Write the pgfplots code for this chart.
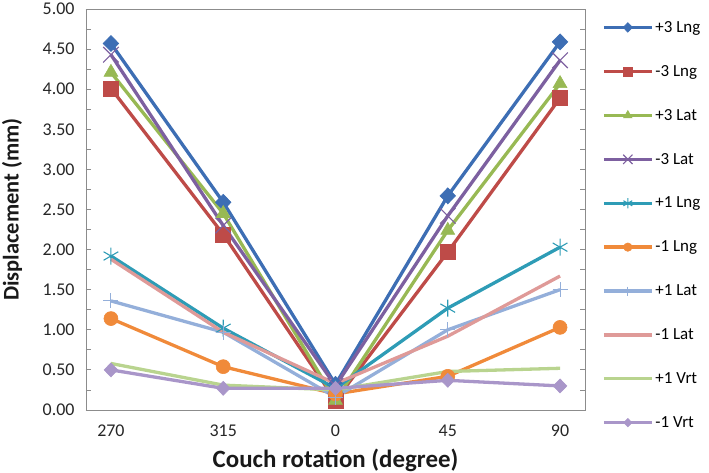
\documentclass[border=0pt]{standalone}
\usepackage{fontspec}
\setmainfont{Carlito}
\usepackage{pgfplots}
\pgfplotsset{compat=1.18}
\definecolor{cA}{HTML}{3D6EB4}
\definecolor{cB}{HTML}{BE4B48}
\definecolor{cC}{HTML}{98B954}
\definecolor{cD}{HTML}{7D60A0}
\definecolor{cE}{HTML}{2E9CB6}
\definecolor{cF}{HTML}{F08A3A}
\definecolor{cG}{HTML}{94AFDA}
\definecolor{cH}{HTML}{DF9A98}
\definecolor{cI}{HTML}{B9D48F}
\definecolor{cJ}{HTML}{A996C9}
\definecolor{axgray}{HTML}{8C8C8C}

\begin{document}
\begin{tikzpicture}[ln/.style={line width=3.3bp}]
\begin{axis}[
    name=ax,
    scale only axis,
    width=499bp, height=401bp,
    xmin=-100, xmax=100, ymin=0, ymax=5,
    xtick={-90,-45,0,45,90},
    xticklabels={270,315,0,45,90},
    minor xtick={-100,-90,...,100},
    ytick={0,0.5,...,5},
    minor ytick={0,0.25,...,5},
    xtick style={draw=none},
    tick align=inside,
    major tick length=5bp, minor tick length=5bp,
    every tick/.style={axgray, line width=0.8pt},
    axis line style={axgray, line width=0.8pt},
    tick label style={font=\fontsize{18}{21}\selectfont, text=black!85},
    /pgf/number format/assume math mode=true,
    yticklabel style={anchor=east, xshift=-8bp,
        /pgf/number format/.cd, fixed, fixed zerofill, precision=2},
    xticklabel style={anchor=base, yshift=-27bp},
    xlabel={\textbf{Couch rotation (degree)}},
    ylabel={\textbf{Displacement (mm)}},
    xlabel style={font=\fontsize{25}{28}\selectfont, text=black!90,
        at={(axis description cs:0.5,-0.1446)}, anchor=base},
    ylabel style={font=\fontsize{22.5}{26}\selectfont, text=black!90,
        at={(axis description cs:-0.148,0.5)}, anchor=center},
    legend cell align=left,
    legend style={draw=none, fill=none, at={(1.0,1.0)}, anchor=north west,
        font=\fontsize{17}{20}\selectfont, row sep=27.5bp, xshift=14bp, yshift=-8bp},
    legend image code/.code={
        \draw[mark repeat=2,mark phase=2,#1,every mark/.append style={scale=0.6}]
            plot coordinates {(0bp,0bp) (24bp,0bp) (48bp,0bp)};},
]
\addplot[ln, cA, mark=diamond*, mark size=8bp, mark options={xscale=1.3, line width=0.6pt}] coordinates {(-90,4.57) (-45,2.59) (0,0.32) (45,2.67) (90,4.59)};
\addlegendentry{+3 Lng}
\addplot[ln, cB, mark=square*, mark size=7.5bp, mark options={line width=0.6pt}] coordinates {(-90,4.01) (-45,2.19) (0,0.12) (45,1.97) (90,3.89)};
\addlegendentry{-3 Lng}
\addplot[ln, cC, mark=triangle*, mark size=8bp, mark options={line width=0.6pt}] coordinates {(-90,4.21) (-45,2.45) (0,0.12) (45,2.24) (90,4.07)};
\addlegendentry{+3 Lat}
\addplot[ln, cD, mark=x, mark size=11bp, mark options={line width=1.1pt}] coordinates {(-90,4.43) (-45,2.30) (0,0.30) (45,2.42) (90,4.36)};
\addlegendentry{-3 Lat}
\addplot[ln, cE, mark=asterisk, mark size=8.5bp, mark options={line width=1.1pt}] coordinates {(-90,1.92) (-45,1.02) (0,0.27) (45,1.27) (90,2.03)};
\addlegendentry{+1 Lng}
\addplot[ln, cF, mark=*, mark size=7bp, mark options={line width=0.6pt}] coordinates {(-90,1.14) (-45,0.54) (0,0.20) (45,0.42) (90,1.03)};
\addlegendentry{-1 Lng}
\addplot[ln, cG, mark=+, mark size=7.5bp, mark options={line width=1.1pt}] coordinates {(-90,1.36) (-45,0.97) (0,0.16) (45,1.00) (90,1.50)};
\addlegendentry{+1 Lat}
\addplot[ln, cH] coordinates {(-90,1.88) (-45,0.97) (0,0.33) (45,0.92) (90,1.67)};
\addlegendentry{-1 Lat}
\addplot[ln, cI] coordinates {(-90,0.58) (-45,0.31) (0,0.25) (45,0.48) (90,0.52)};
\addlegendentry{+1 Vrt}
\addplot[ln, cJ, mark=diamond*, mark size=7bp, mark options={xscale=1.3, line width=0.6pt}] coordinates {(-90,0.50) (-45,0.27) (0,0.27) (45,0.37) (90,0.30)};
\addlegendentry{-1 Vrt}
\end{axis}
\pgfresetboundingbox
\path ([xshift=-86bp,yshift=-63bp]ax.south west) rectangle ([xshift=124bp,yshift=9bp]ax.north east);
\end{tikzpicture}
\end{document}
